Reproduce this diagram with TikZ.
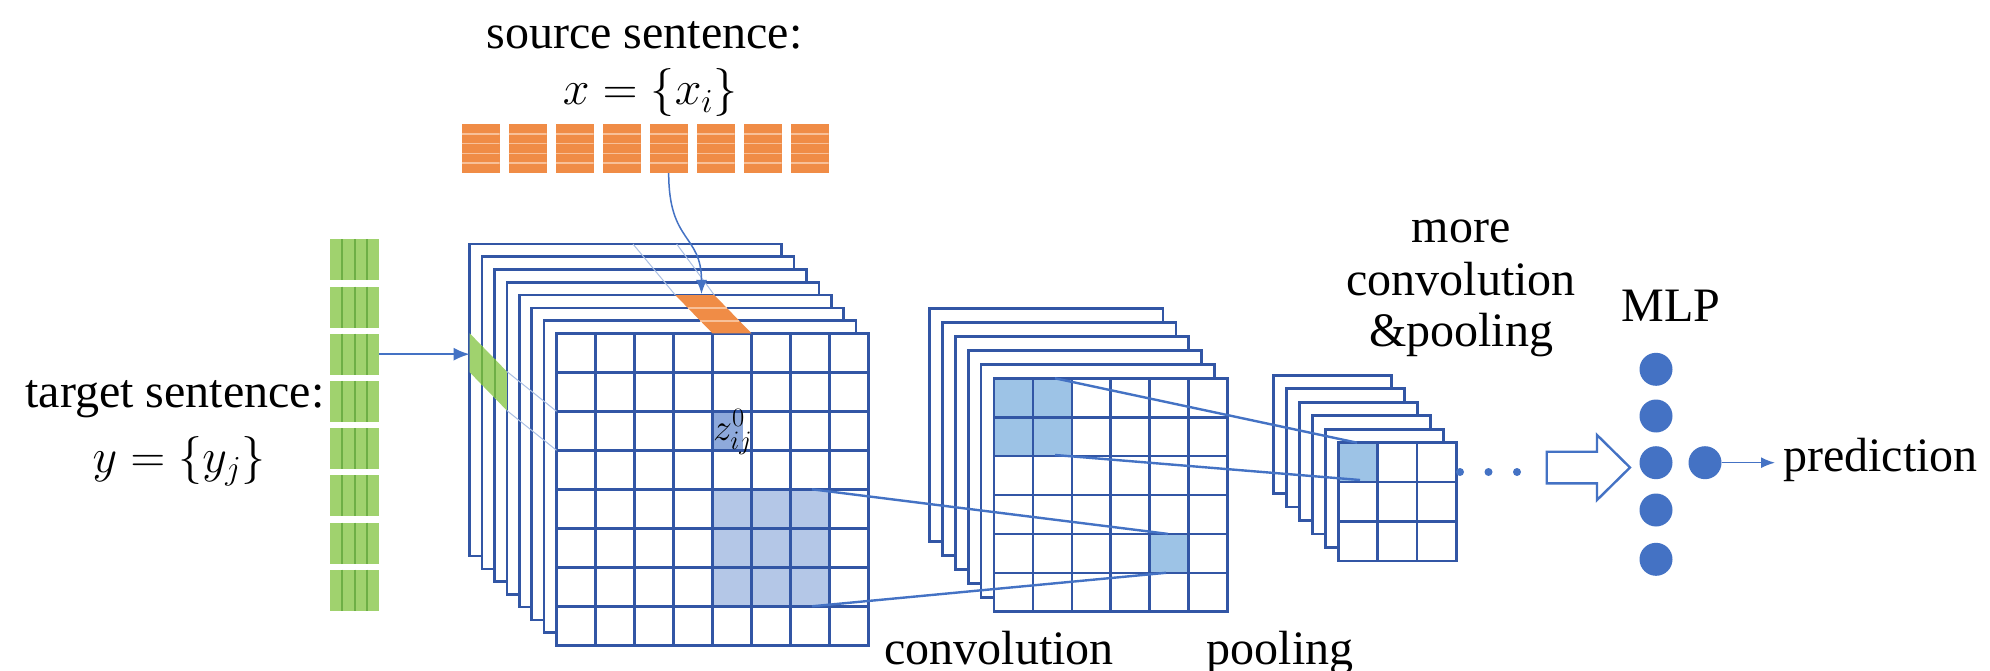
\RequirePackage{fix-cm}
\documentclass[tikz,border=0pt]{standalone}
\usepackage{fontspec}
\setmainfont{Liberation Serif}
\usetikzlibrary{arrows.meta,calc}
\definecolor{gridblue}{RGB}{50,86,165}
\definecolor{linkblue}{RGB}{68,114,196}
\definecolor{cellA}{RGB}{180,199,231}
\definecolor{cellB}{RGB}{157,195,230}
\definecolor{zcell}{RGB}{142,169,219}
\definecolor{orfill}{RGB}{240,140,70}
\definecolor{orline}{RGB}{248,192,152}
\definecolor{grfill}{RGB}{160,210,110}
\definecolor{grline}{RGB}{110,175,70}
\begin{document}
\begin{tikzpicture}[x=1pt,y=-1pt,
  txt/.style={font=\fontsize{48}{56}\selectfont, inner sep=0pt, anchor=base},
  layer/.style={draw=gridblue, fill=white, line width=2.6pt},
  gline/.style={draw=gridblue, line width=2.6pt},
  link/.style={draw=linkblue, line width=2.4pt},
  faint/.style={draw=linkblue!45, line width=1pt},
  arr/.style={draw=linkblue, line width=2pt, -{Latex[length=16pt,width=13pt]}},
  arrthin/.style={draw=linkblue, line width=1.5pt, -{Latex[length=14pt,width=11pt]}},
  neuron/.style={circle, fill=linkblue, minimum size=33pt, inner sep=0pt},
  dotn/.style={circle, fill=linkblue, minimum size=8pt, inner sep=0pt},
  orblock/.style={rectangle, fill=orfill, minimum width=38pt, minimum height=49pt, inner sep=0pt,
    path picture={\foreach \j in {1,...,4}{\draw[orline, line width=1.6pt]
      ($(path picture bounding box.north west)!\j/5!(path picture bounding box.south west)$) --
      ($(path picture bounding box.north east)!\j/5!(path picture bounding box.south east)$);}}},
  grblock/.style={rectangle, fill=grfill, minimum width=49pt, minimum height=41pt, inner sep=0pt,
    path picture={\foreach \j in {1,...,3}{\draw[grline, line width=2pt]
      ($(path picture bounding box.north west)!\j/4!(path picture bounding box.north east)$) --
      ($(path picture bounding box.south west)!\j/4!(path picture bounding box.south east)$);}}}
]
\fill[white] (0,0) rectangle (1990,671);
\useasboundingbox (0,0) rectangle (1990,671);

% ---------- texts ----------
\node[txt] (src) at (644.5,49) {source sentence:};
\node[txt] (srcm) at (650,105) {$x=\{x_i\}$};
\node[txt] (tgt) at (175,407) {target sentence:};
\node[txt] (tgtm) at (179,472) {$y=\{y_j\}$};
\node[txt] (more1) at (1461,243) {more};
\node[txt] (more2) at (1461,295) {convolution};
\node[txt] (more3) at (1461,346.7) {\&pooling};
\node[txt] (mlp) at (1671,321.7) {MLP};
\node[txt, anchor=base west] (pred) at (1783,471.7) {prediction};
\node[txt] (conv) at (999,664) {convolution};
\node[txt, anchor=base west] (pool) at (1206.7,664) {pooling};

% ---------- source / target embeddings ----------
\foreach \k in {0,...,7} \node[orblock] (o\k) at ({480.7+47*\k},148.5) {};
\foreach \k in {0,...,7} \node[grblock] (g\k) at (354.5,{259.8+47.2*\k}) {};

% ---------- first stack ----------
\foreach \k in {7,6,...,1} \draw[layer] ({556.5-12.4*\k},{333.3-12.75*\k}) rectangle +(312,312);
\fill[white] (556.5,333.3) rectangle +(312,312);
\fill[cellA] (712.5,489.3) rectangle (829.5,606.3);
\fill[zcell] (712.5,411.3) rectangle (743,450.3);
\foreach \i in {1,...,7} {
  \draw[gline] ({556.5+39*\i},333.3) -- ++(0,312);
  \draw[gline] (556.5,{333.3+39*\i}) -- ++(312,0);
}
\draw[gline] (556.5,333.3) rectangle +(312,312);
\node[font=\fontsize{38}{40}\selectfont, inner sep=0pt, anchor=west] (z) at (713,432) {$z_{ij}^{0}$};

% green side face
\fill[grfill] (469.7,333.3) -- (506.9,371.55) -- (506.9,410.55) -- (469.7,372.3) -- cycle;
\foreach \k in {1,2} \draw[grline, line width=2pt] ({469.7+12.4*\k},{333.3+12.75*\k}) -- ++(0,39);
% orange top face
\fill[orfill] (712.5,333.3) -- (751.5,333.3) -- (714.3,295.05) -- (675.3,295.05) -- cycle;
\foreach \k in {1,2} \draw[orline, line width=2pt] ({712.5-12.4*\k},{333.3-12.75*\k}) -- ++(39,0);
% faint projection lines
\coordinate (gA) at (506.9,371.55); \coordinate (gB) at (506.9,410.55);
\coordinate (fA) at (556.5,411.3); \coordinate (fB) at (556.5,450.3);
\coordinate (oA) at (675.3,295.05); \coordinate (oB) at (714.3,295.05);
\coordinate (bA) at (633,244.05); \coordinate (bB) at (676.7,244.05);
\draw[faint] (gA) -- (fA);
\draw[faint] (gB) -- (fB);
\draw[faint] (oA) -- (bA);
\draw[faint] (oB) -- (bB);

% ---------- second stack ----------
\foreach \k in {5,4,...,1} \draw[layer] ({994-12.9*\k},{378.3-14*\k}) rectangle +(233.4,233.4);
\fill[white] (994,378.3) rectangle +(233.4,233.4);
\fill[cellB] (994,378.3) rectangle +(77.8,77.8);
\fill[cellB] (1149.6,533.9) rectangle +(38.9,38.9);
\foreach \i in {1,...,5} {
  \draw[gline] ({994+38.9*\i},378.3) -- ++(0,233.4);
  \draw[gline] (994,{378.3+38.9*\i}) -- ++(233.4,0);
}
\draw[gline] (994,378.3) rectangle +(233.4,233.4);

% ---------- third stack ----------
\foreach \k in {5,4,...,1} \draw[layer] ({1338.3-13*\k},{442.7-13.5*\k}) rectangle +(118.2,118.2);
\fill[white] (1338.3,442.7) rectangle +(118.2,118.2);
\fill[cellB] (1338.3,442.7) rectangle +(39.4,39.4);
\foreach \i in {1,2} {
  \draw[gline] ({1338.3+39.4*\i},442.7) -- ++(0,118.2);
  \draw[gline] (1338.3,{442.7+39.4*\i}) -- ++(118.2,0);
}
\draw[gline] (1338.3,442.7) rectangle +(118.2,118.2);

% ---------- connectors between stacks ----------
\coordinate (s1a) at (812,489.3); \coordinate (s1b) at (812,606.3);
\coordinate (t2a) at (1168,533.9); \coordinate (t2b) at (1166,572.8);
\coordinate (s2a) at (1055,378.3); \coordinate (s2b) at (1055,455);
\coordinate (t3a) at (1357,442.7); \coordinate (t3b) at (1360,480);
\draw[link] (s1a) -- (t2a);
\draw[link] (s1b) -- (t2b);
\draw[link] (s2a) -- (t3a);
\draw[link] (s2b) -- (t3b);

% ---------- input arrows ----------
\coordinate (gface) at (469.7,354.2);
\draw[arr] (g2.east) -- (gface);
\coordinate (otop) at (701.5,294);
\draw[arrthin] (o4.south) .. controls +(0,70) and +(0,-60) .. (otop);

% ---------- dots, block arrow, MLP ----------
\node[dotn] (d1) at (1460,472) {};
\node[dotn] (d2) at (1488.5,472) {};
\node[dotn] (d3) at (1517,472) {};
\draw[draw=linkblue, fill=white, line width=2.4pt] (1546.7,451.7) -- (1597,451.7) -- (1597,435) -- (1630,467.5) -- (1597,500) -- (1597,483.3) -- (1546.7,483.3) -- cycle;
\node[neuron] (m1) at (1656,369.3) {};
\node[neuron] (m2) at (1656,416) {};
\node[neuron] (m3) at (1656,462.7) {};
\node[neuron] (m4) at (1656,510) {};
\node[neuron] (m5) at (1656,559.3) {};
\node[neuron] (out) at (1705,462.7) {};
\draw[arrthin, shorten >=8pt] (out.east) -- (out.east -| pred.west);
\end{tikzpicture}
\end{document}
